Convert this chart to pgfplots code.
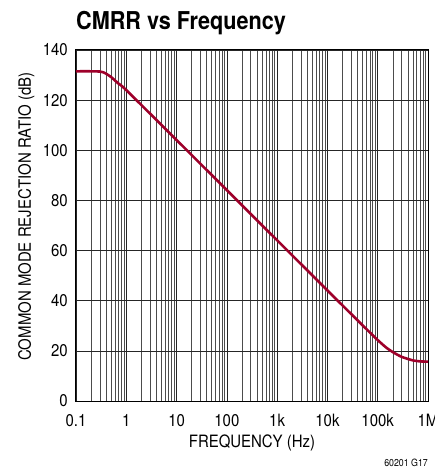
\documentclass[border=0pt]{standalone}
\usepackage{fontspec}
\setmainfont{TeX Gyre Heros}[FakeStretch=0.88]
\usepackage{pgfplots}
\pgfplotsset{compat=1.18}
\definecolor{curve}{RGB}{158,0,42}
\begin{document}
\begin{tikzpicture}
\begin{axis}[
  at={(0,0)}, anchor=south west,
  xmode=log, xmin=0.1, xmax=1e6, ymin=0, ymax=140,
  scale only axis, width=352bp, height=351bp,
  xtick={0.1,1,10,100,1000,10000,100000,1000000},
  xticklabels={0.1,1,10,100,1k,10k,100k,1M},
  minor xtick={0.2,0.3,0.4,0.5,0.6,0.7,0.8,0.9,
    2,3,4,5,6,7,8,9,
    20,30,40,50,60,70,80,90,
    200,300,400,500,600,700,800,900,
    2000,3000,4000,5000,6000,7000,8000,9000,
    20000,30000,40000,50000,60000,70000,80000,90000,
    200000,300000,400000,500000,600000,700000,800000,900000},
  ytick={0,20,40,60,80,100,120,140},
  grid=both,
  major grid style={black!85, line width=0.7bp},
  minor grid style={black!70, line width=0.7bp},
  major tick length=0pt, minor tick length=0pt,
  axis line style={line width=1bp},
  /pgf/number format/assume math mode=true,
  ticklabel style={font=\fontsize{17bp}{20bp}\selectfont},
  xticklabel style={anchor=base, inner sep=0pt, yshift=-25bp},
  yticklabel style={anchor=east, inner sep=0pt, xshift=-8bp},
]
\addplot[curve, line width=2.6bp, smooth, tension=0.4] coordinates {
  (0.1,131.5) (0.2,131.5) (0.3,131.4) (0.35,131.1) (0.4,130.5) (0.5,129.2)
  (0.7,126.6) (1,124.0) (10,104.1) (100,84.1) (1000,64.1) (10000,44.1)
  (50000,30.2) (100000,24.3) (150000,21.2) (200000,19.5) (300000,17.6)
  (500000,16.2) (700000,15.8) (1000000,15.7)
};
\end{axis}
\node[anchor=base west, inner sep=0pt, font=\bfseries\fontsize{24.6bp}{29bp}\selectfont] at (0bp,371.7bp) {CMRR vs Frequency};
\node[rotate=90, anchor=base, inner sep=0pt, font=\fontsize{17bp}{20bp}\selectfont] at (-45bp,184.5bp) {COMMON MODE REJECTION RATIO (dB)};
\node[anchor=base, inner sep=0pt, font=\fontsize{17bp}{20bp}\selectfont] at (176bp,-46bp) {FREQUENCY (Hz)};
\node[anchor=base east, inner sep=0pt, font=\fontsize{10bp}{12bp}\selectfont] at (352bp,-65bp) {60201 G17};
\pgfresetboundingbox
\path[use as bounding box] (-76bp,-68bp) rectangle (359bp,401bp);
\end{tikzpicture}
\end{document}
